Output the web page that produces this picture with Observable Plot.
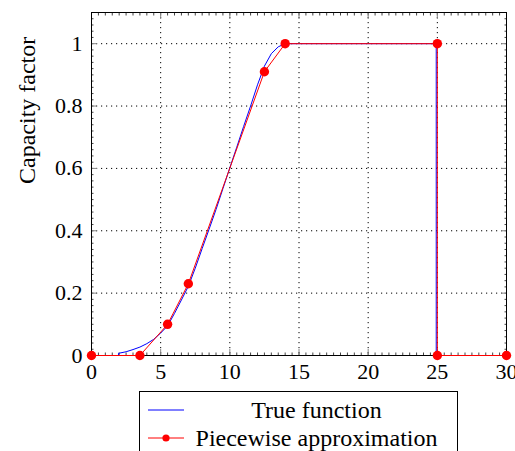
<!DOCTYPE html>
<html>
<head>
<meta charset="utf-8">
<script src="https://cdn.jsdelivr.net/npm/d3@7"></script>
<script src="https://cdn.jsdelivr.net/npm/@observablehq/plot@0.6"></script>
<style>
  html, body { margin: 0; padding: 0; background: #fff; overflow: hidden; }
  #wrap { position: relative; width: 515px; height: 451px; font-family: "Liberation Serif", serif; }
  #legend { position: absolute; left: 139px; top: 391px; width: 319px; height: 90px; box-sizing: border-box; border: 1px solid #000; background: #fff; }
  .row { position: absolute; left: 0; width: 100%; height: 28px; }
  .row svg { position: absolute; left: 7px; top: 0; }
  .row span { position: absolute; left: 48px; width: 257px; text-align: center; font-size: 24px; line-height: 28px; top: 0; color: #000; }
</style>
</head>
<body>
<div id="wrap">
  <div id="chart"></div>
  <div id="legend">
    <div class="row" style="top:4px"><svg width="38" height="28"><line x1="1" x2="37" y1="14" y2="14" stroke="blue" stroke-width="1"/></svg><span>True function</span></div>
    <div class="row" style="top:32px"><svg width="38" height="28"><line x1="1" x2="37" y1="14" y2="14" stroke="red" stroke-width="1"/><circle cx="19" cy="14" r="3.6" fill="red"/></svg><span>Piecewise approximation</span></div>
  </div>
</div>
<script>
// True function
const trueX = [0, 1.95, 1.95, 2.5, 3, 3.5, 4, 4.5, 5, 5.5, 6, 6.5, 7, 7.5, 8, 8.5, 9, 9.5, 10, 10.5, 11, 11.5, 12, 12.5, 13, 13.5, 14, 24.92, 24.92, 30];
const trueY = [0, 0, 0.007, 0.012, 0.019, 0.027, 0.038, 0.052, 0.072, 0.095, 0.135, 0.178, 0.222, 0.28, 0.343, 0.405, 0.468, 0.535, 0.602, 0.668, 0.735, 0.80, 0.868, 0.928, 0.968, 0.99, 1, 1, 0, 0];

// Piecewise approximation
const approxX = [0, 3.5, 5.5, 7, 12.5, 14, 25, 25, 30];
const approxY = [0, 0, 0.1, 0.23, 0.91, 1, 1, 0, 0];

// Ticks
const xTicks = [0, 5, 10, 15, 20, 25, 30];
const yTicks = [0, 0.2, 0.4, 0.6, 0.8, 1];
const xGrid = [5, 10, 15, 20, 25];
const yGrid = [0.2, 0.4, 0.6, 0.8, 1];
const xMinor = d3.range(0, 30.001, 0.5);
const yMinor = d3.range(0, 1.1001, 0.02);

const trueData = trueX.map((x, i) => ({x, y: trueY[i]}));
const approxData = approxX.map((x, i) => ({x, y: approxY[i]}));

const chart = Plot.plot({
  width: 515,
  height: 385,
  marginLeft: 91,
  marginRight: 9,
  marginTop: 12,
  marginBottom: 30,
  style: { fontFamily: "Liberation Serif, serif", fontSize: "22px", background: "white", color: "black" },
  x: { domain: [0, 30], axis: null },
  y: { domain: [0, 1.1], axis: null },
  marks: [
    Plot.gridX(xGrid, { stroke: "black", strokeOpacity: 1, strokeWidth: 1, strokeDasharray: "1.2,3.8" }),
    Plot.gridY(yGrid, { stroke: "black", strokeOpacity: 1, strokeWidth: 1, strokeDasharray: "1.2,3.8" }),
    // minor ticks (inward)
    Plot.axisX(xMinor, { anchor: "bottom", tickSize: -2.5, text: null, stroke: "#444", label: null }),
    Plot.axisX(xMinor, { anchor: "top", tickSize: -2.5, text: null, stroke: "#444", label: null }),
    Plot.axisY(yMinor, { anchor: "left", tickSize: -2.5, text: null, stroke: "#444", label: null }),
    Plot.axisY(yMinor, { anchor: "right", tickSize: -2.5, text: null, stroke: "#444", label: null }),
    // major ticks (inward)
    Plot.axisX(xTicks, { anchor: "bottom", tickSize: -6, text: null, stroke: "#888", label: null }),
    Plot.axisX(xTicks, { anchor: "top", tickSize: -6, text: null, stroke: "#888", label: null }),
    Plot.axisY(yTicks, { anchor: "left", tickSize: -6, text: null, stroke: "#888", label: null }),
    Plot.axisY(yTicks, { anchor: "right", tickSize: -6, text: null, stroke: "#888", label: null }),
    // tick labels
    Plot.axisX(xTicks, { anchor: "bottom", tickSize: 0, tickPadding: 8, fontSize: 22, label: null, tickFormat: d => String(d) }),
    Plot.axisY(yTicks, { anchor: "left", tickSize: 0, tickPadding: 9, fontSize: 22, label: null, tickFormat: d => String(d) }),
    Plot.frame({ stroke: "black", strokeWidth: 1 }),
    Plot.line(trueData, { x: "x", y: "y", stroke: "blue", strokeWidth: 1 }),
    Plot.line(approxData, { x: "x", y: "y", stroke: "red", strokeWidth: 1 }),
    Plot.dot(approxData, { x: "x", y: "y", fill: "red", r: 4.7 }),
    Plot.text(["Capacity factor"], { frameAnchor: "left", dx: -64, rotate: -90, fontSize: 24, fill: "black" })
  ]
});
document.getElementById("chart").appendChild(chart);
</script>
</body>
</html>
